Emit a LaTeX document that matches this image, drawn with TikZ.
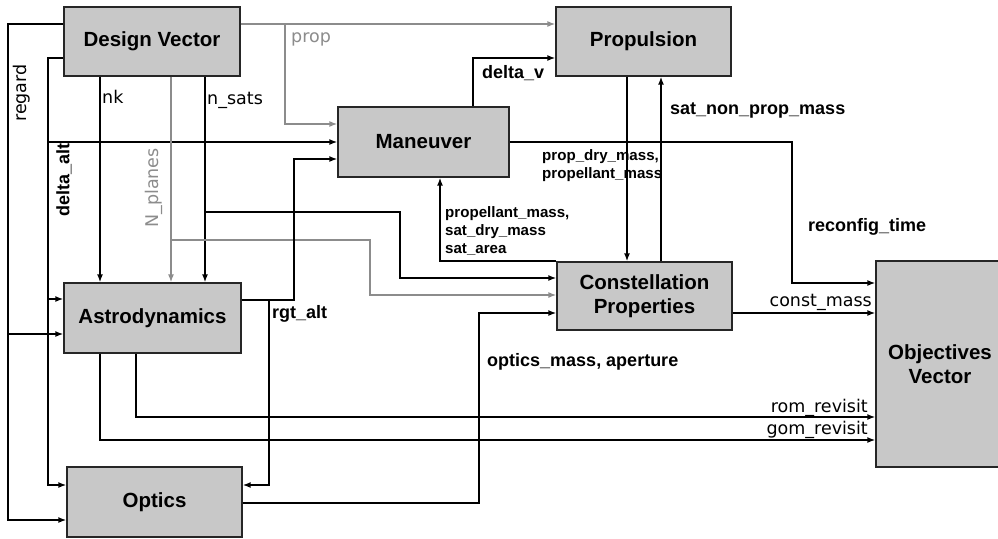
\documentclass[tikz,border=0pt]{standalone}
\usepackage{fontspec}
\setmainfont{Liberation Sans}
\newfontfamily\dvfont{DejaVu Sans}
\usetikzlibrary{arrows.meta,calc}
\definecolor{boxfill}{RGB}{200,200,200}
\definecolor{lgray}{RGB}{140,140,140}
\begin{document}
\begin{tikzpicture}[x=1pt,y=-1pt,
  box/.style={draw=black!85,line width=1.3pt,fill=boxfill,inner sep=0pt,align=center,font=\fontsize{20.5}{24}\selectfont\bfseries},
  conn/.style={line width=1.8pt,-{Latex[length=8pt,width=6pt]}},
  gconn/.style={conn,draw=lgray,line width=1.3pt},
  lbl/.style={inner sep=0pt,font=\fontsize{18}{20}\selectfont\bfseries},
  rlbl/.style={inner sep=0pt,font=\dvfont\fontsize{17.5}{20}\selectfont},
  slbl/.style={inner sep=0pt,align=left,font=\fontsize{15.1}{18.3}\selectfont\bfseries}]
\useasboundingbox (0,0) rectangle (998,538);
\fill[white] (0,0) rectangle (998,538);

% helper levels
\foreach \v in {24,58,124,142,159,278,283,295,299,300,313,334,417,440,485,503,520}
  {\coordinate (Y\v) at (0,\v);}
\foreach \v in {100,136,171,205,440,473,627,661}
  {\coordinate (X\v) at (\v,0);}

% boxes
\node[box,minimum width=176pt,minimum height=69pt] (dv) at (152,41.5) {Design Vector};
\node[box,minimum width=175pt,minimum height=69pt] (prop) at (643.5,41.5) {Propulsion};
\node[box,minimum width=171pt,minimum height=70pt] (man) at (423.5,142) {Maneuver};
\node[box,minimum width=177pt,minimum height=70pt] (astro) at (152.5,318) {Astrodynamics};
\node[box,minimum width=175pt,minimum height=70pt] (optics) at (154.5,502) {Optics};
\node[box,minimum width=175pt,minimum height=68pt] (cp) at (644.5,296) {Constellation\\Properties};
\node[box,minimum width=128pt,minimum height=206pt] (ov) at (940,364) {Objectives\\Vector};

% regard
\draw[conn] (dv.west |- Y24) -- (8,24) -- (8,520) -- (optics.west |- Y520);
\draw[conn] (8,334) -- (astro.west |- Y334);
% delta_alt
\draw[conn] (dv.west |- Y58) -- (48,58) -- (48,485) -- (optics.west |- Y485);
\draw[conn] (48,142) -- (man.west |- Y142);
\draw[conn] (48,299) -- (astro.west |- Y299);
% nk
\draw[conn] (dv.south -| X100) -- (astro.north -| X100);
% n_sats
\draw[conn] (dv.south -| X205) -- (astro.north -| X205);
\draw[conn] (205,212) -- (400,212) -- (400,278) -- (cp.west |- Y278);
% N_planes
\draw[gconn] (dv.south -| X171) -- (astro.north -| X171);
\draw[gconn] (171,240) -- (370,240) -- (370,295) -- (cp.west |- Y295);
% prop
\draw[gconn] (dv.east |- Y24) -- (prop.west |- Y24);
\draw[gconn] (285,24) -- (285,124) -- (man.west |- Y124);
% delta_v
\draw[conn] (man.north -| X473) -- (473,58) -- (prop.west |- Y58);
% rgt_alt
\draw[conn] (astro.east |- Y300) -- (294,300) -- (294,159) -- (man.west |- Y159);
\draw[conn] (269,300) -- (269,485) -- (optics.east |- Y485);
% revisits
\draw[conn] (astro.south -| X136) -- (136,417) -- (ov.west |- Y417);
\draw[conn] (astro.south -| X100) -- (100,440) -- (ov.west |- Y440);
% optics_mass
\draw[conn] (optics.east |- Y503) -- (479,503) -- (479,313) -- (cp.west |- Y313);
% reconfig_time
\draw[conn] (man.east |- Y142) -- (792,142) -- (792,283) -- (ov.west |- Y283);
% propulsion <-> constellation
\draw[conn] (prop.south -| X627) -- (cp.north -| X627);
\draw[conn] (cp.north -| X661) -- (prop.south -| X661);
% constellation -> maneuver
\draw[conn] (cp.north west) -- (cp.north west -| X440) -- (man.south -| X440);
% const_mass
\draw[conn] (cp.east |- Y313) -- (ov.west |- Y313);

% labels
\node[rlbl,rotate=90] (tregard) at (22,93) {regard};
\node[lbl,rotate=90] (tdalt) at (64,180) {delta\_alt};
\node[rlbl,anchor=base west] (tnk) at (102,103) {nk};
\node[rlbl,anchor=base west] (tnsats) at (207,104) {n\_sats};
\node[rlbl,rotate=90,text=lgray] (tnpl) at (154,188) {N\_planes};
\node[rlbl,anchor=base west,text=lgray] (tprop) at (291,42) {prop};
\node[lbl,anchor=base west] (tdv) at (482,78) {delta\_v};
\node[lbl,anchor=base west] (tsnp) at (670,114) {sat\_non\_prop\_mass};
\node[slbl,anchor=north west] (tpdm) at (542,149) {prop\_dry\_mass,\\propellant\_mass};
\node[slbl,anchor=north west] (tpm) at (445,206) {propellant\_mass,\\sat\_dry\_mass\\sat\_area};
\node[lbl,anchor=base west] (trt) at (808,231) {reconfig\_time};
\node[rlbl,anchor=base east] (tcm) at (872,306) {const\_mass};
\node[lbl,anchor=base west] (trgt) at (272,318) {rgt\_alt};
\node[lbl,anchor=base west] (tom) at (487,366) {optics\_mass, aperture};
\node[rlbl,anchor=base east] (trom) at (868,412) {rom\_revisit};
\node[rlbl,anchor=base east] (tgom) at (868,434) {gom\_revisit};
\end{tikzpicture}
\end{document}
